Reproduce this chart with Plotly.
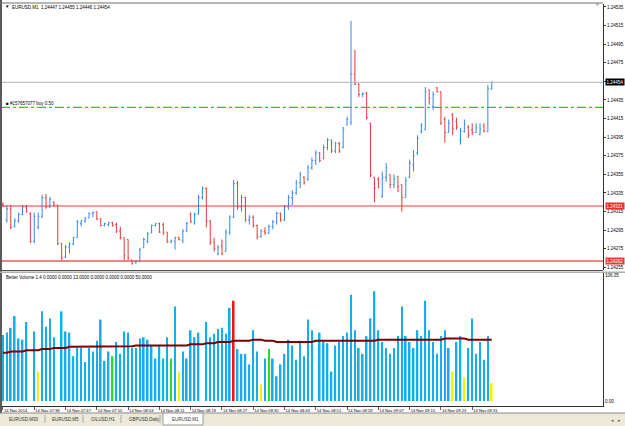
import plotly.graph_objects as go

W, H = 625, 426

# ---------------- data ----------------
time_labels = ["14 Nov 2014", "14 Nov 07:38", "14 Nov 07:47", "14 Nov 07:55", "14 Nov 08:03",
               "14 Nov 08:11", "14 Nov 08:19", "14 Nov 08:27", "14 Nov 08:35", "14 Nov 08:43",
               "14 Nov 08:51", "14 Nov 08:59", "14 Nov 09:07", "14 Nov 09:15", "14 Nov 09:23",
               "14 Nov 09:31"]
label_bars = [0, 8, 16, 24, 32, 40, 48, 56, 64, 72, 80, 88, 96, 104, 112, 120]

opens = [1.24323, 1.24306, 1.24318, 1.24299, 1.24305, 1.24312, 1.24320, 1.24313, 1.24283, 1.24298,
         1.24310, 1.24330, 1.24320, 1.24325, 1.24322, 1.24281, 1.24266, 1.24277, 1.24280, 1.24287,
         1.24302, 1.24305, 1.24308, 1.24313, 1.24315, 1.24307, 1.24300, 1.24301, 1.24303, 1.24301,
         1.24294, 1.24287, 1.24285, 1.24263, 1.24260, 1.24261, 1.24276, 1.24283, 1.24292, 1.24300,
         1.24302, 1.24301, 1.24293, 1.24282, 1.24283, 1.24287, 1.24284, 1.24294, 1.24312, 1.24303,
         1.24312, 1.24330, 1.24340, 1.24305, 1.24282, 1.24270, 1.24278, 1.24272, 1.24292, 1.24309,
         1.24345, 1.24320, 1.24330, 1.24306, 1.24309, 1.24300, 1.24288, 1.24294, 1.24292, 1.24299,
         1.24304, 1.24313, 1.24306, 1.24320, 1.24330, 1.24335, 1.24346, 1.24352, 1.24350, 1.24362,
         1.24370, 1.24378, 1.24372, 1.24384, 1.24392, 1.24380, 1.24388, 1.24384, 1.24408, 1.24411,
         1.24463, 1.24452, 1.24441, 1.24442, 1.24410, 1.24352, 1.24350, 1.24331, 1.24352, 1.24355,
         1.24344, 1.24353, 1.24344, 1.24330, 1.24352, 1.24365, 1.24378, 1.24401, 1.24403, 1.24446,
         1.24428, 1.24448, 1.24444, 1.24414, 1.24400, 1.24419, 1.24412, 1.24392, 1.24401, 1.24406,
         1.24403, 1.24400, 1.24398, 1.24407, 1.24401, 1.24447]
highs = [1.24325, 1.24322, 1.24322, 1.24308, 1.24314, 1.24322, 1.24322, 1.24314, 1.24314, 1.24314,
         1.24333, 1.24334, 1.24331, 1.24326, 1.24322, 1.24281, 1.24279, 1.24282, 1.24288, 1.24306,
         1.24306, 1.24309, 1.24314, 1.24315, 1.24315, 1.24308, 1.24303, 1.24304, 1.24304, 1.24303,
         1.24299, 1.24287, 1.24285, 1.24263, 1.24263, 1.24276, 1.24287, 1.24293, 1.24301, 1.24303,
         1.24303, 1.24303, 1.24293, 1.24285, 1.24288, 1.24288, 1.24296, 1.24304, 1.24314, 1.24314,
         1.24333, 1.24342, 1.24341, 1.24306, 1.24287, 1.24279, 1.24285, 1.24296, 1.24311, 1.24349,
         1.24348, 1.24333, 1.24331, 1.24311, 1.24311, 1.24301, 1.24296, 1.24298, 1.24301, 1.24306,
         1.24315, 1.24314, 1.24322, 1.24333, 1.24338, 1.24349, 1.24358, 1.24353, 1.24365, 1.24373,
         1.24381, 1.24379, 1.24387, 1.24394, 1.24392, 1.24390, 1.24390, 1.24406, 1.24417, 1.24520,
         1.24489, 1.24453, 1.24443, 1.24444, 1.24410, 1.24352, 1.24352, 1.24358, 1.24367, 1.24355,
         1.24355, 1.24353, 1.24344, 1.24352, 1.24371, 1.24381, 1.24397, 1.24410, 1.24449, 1.24446,
         1.24444, 1.24449, 1.24444, 1.24417, 1.24414, 1.24421, 1.24416, 1.24405, 1.24414, 1.24408,
         1.24410, 1.24410, 1.24410, 1.24410, 1.24451, 1.24455]
lows = [1.24320, 1.24303, 1.24296, 1.24298, 1.24303, 1.24311, 1.24314, 1.24281, 1.24281, 1.24296,
        1.24308, 1.24318, 1.24319, 1.24321, 1.24279, 1.24263, 1.24265, 1.24270, 1.24279, 1.24287,
        1.24299, 1.24303, 1.24308, 1.24309, 1.24306, 1.24299, 1.24299, 1.24299, 1.24299, 1.24292,
        1.24285, 1.24263, 1.24263, 1.24258, 1.24259, 1.24261, 1.24276, 1.24281, 1.24292, 1.24299,
        1.24292, 1.24290, 1.24281, 1.24281, 1.24274, 1.24284, 1.24281, 1.24293, 1.24303, 1.24301,
        1.24312, 1.24328, 1.24298, 1.24279, 1.24272, 1.24268, 1.24268, 1.24272, 1.24290, 1.24308,
        1.24317, 1.24315, 1.24304, 1.24301, 1.24298, 1.24285, 1.24287, 1.24290, 1.24291, 1.24296,
        1.24301, 1.24304, 1.24305, 1.24317, 1.24322, 1.24333, 1.24340, 1.24344, 1.24348, 1.24360,
        1.24365, 1.24368, 1.24371, 1.24381, 1.24378, 1.24378, 1.24378, 1.24383, 1.24408, 1.24408,
        1.24451, 1.24438, 1.24438, 1.24414, 1.24352, 1.24325, 1.24340, 1.24330, 1.24347, 1.24340,
        1.24340, 1.24336, 1.24315, 1.24330, 1.24351, 1.24358, 1.24376, 1.24399, 1.24403, 1.24430,
        1.24424, 1.24443, 1.24408, 1.24389, 1.24400, 1.24397, 1.24403, 1.24387, 1.24400, 1.24394,
        1.24397, 1.24400, 1.24397, 1.24400, 1.24401, 1.24446]
closes = [1.24321, 1.24318, 1.24298, 1.24305, 1.24312, 1.24320, 1.24315, 1.24283, 1.24310, 1.24310,
          1.24330, 1.24320, 1.24328, 1.24322, 1.24281, 1.24265, 1.24277, 1.24280, 1.24287, 1.24304,
          1.24305, 1.24308, 1.24313, 1.24314, 1.24307, 1.24300, 1.24302, 1.24303, 1.24300, 1.24294,
          1.24287, 1.24268, 1.24265, 1.24259, 1.24262, 1.24274, 1.24285, 1.24291, 1.24300, 1.24302,
          1.24293, 1.24292, 1.24283, 1.24284, 1.24287, 1.24285, 1.24294, 1.24302, 1.24304, 1.24312,
          1.24330, 1.24340, 1.24305, 1.24282, 1.24275, 1.24276, 1.24270, 1.24293, 1.24309, 1.24345,
          1.24320, 1.24330, 1.24306, 1.24309, 1.24300, 1.24288, 1.24294, 1.24292, 1.24299, 1.24304,
          1.24313, 1.24306, 1.24320, 1.24330, 1.24335, 1.24346, 1.24355, 1.24346, 1.24362, 1.24370,
          1.24378, 1.24370, 1.24384, 1.24392, 1.24380, 1.24388, 1.24380, 1.24403, 1.24414, 1.24463,
          1.24452, 1.24441, 1.24442, 1.24416, 1.24354, 1.24340, 1.24341, 1.24352, 1.24362, 1.24344,
          1.24350, 1.24342, 1.24330, 1.24348, 1.24367, 1.24375, 1.24394, 1.24408, 1.24444, 1.24437,
          1.24441, 1.24444, 1.24410, 1.24400, 1.24410, 1.24404, 1.24406, 1.24402, 1.24409, 1.24397,
          1.24400, 1.24405, 1.24404, 1.24402, 1.24447, 1.24454]

volume = [56, 58, 62, 72, 53, 52, 67, 50, 59, 25, 76, 63, 70, 54, 50, 76, 59, 58, 38, 45,
          45, 33, 45, 42, 51, 69, 34, 42, 38, 50, 40, 59, 58, 45, 45, 53, 54, 52, 47, 36,
          47, 36, 54, 36, 80, 25, 42, 36, 60, 54, 58, 50, 67, 54, 57, 61, 62, 57, 79, 85,
          44, 40, 40, 31, 60, 42, 14, 36, 44, 36, 21, 31, 40, 52, 47, 35, 51, 38, 69, 60,
          50, 58, 50, 49, 25, 47, 50, 55, 58, 90, 60, 45, 40, 55, 70, 93, 60, 50, 45, 40,
          45, 55, 80, 55, 50, 45, 60, 55, 85, 60, 50, 40, 55, 60, 45, 25, 50, 55, 20, 45,
          70, 40, 50, 35, 55, 15]
# n = neutral, l = low, c = climax high, h = churn, w = climax low
vol_kind = ["n", "n", "n", "n", "n", "n", "n", "w", "n", "l", "n", "n", "n", "n", "w", "n", "n", "n", "n", "n",
            "n", "n", "n", "n", "n", "n", "n", "n", "h", "n", "n", "n", "n", "n", "n", "n", "n", "n", "n", "n",
            "n", "n", "n", "h", "n", "l", "n", "n", "n", "n", "n", "w", "n", "n", "n", "n", "n", "n", "n", "c",
            "n", "n", "n", "n", "n", "n", "l", "n", "h", "n", "n", "n", "n", "n", "n", "n", "n", "n", "n", "n",
            "w", "n", "n", "n", "n", "n", "n", "n", "n", "n", "n", "n", "n", "n", "n", "n", "n", "n", "n", "n",
            "n", "n", "n", "n", "n", "n", "n", "n", "n", "n", "n", "n", "n", "n", "n", "l", "n", "n", "l", "n",
            "n", "n", "n", "n", "n", "l"]
vol_ma = [41, 41, 42, 42, 42, 42, 43, 43, 43, 43, 44, 44, 44, 45, 45, 45, 45, 46, 46, 46,
          46, 46, 46, 46, 46, 46, 46, 46, 46, 46, 46, 46.5, 46.5, 46.5, 47, 47, 47, 47, 47, 47,
          47, 47, 47, 47, 47, 47, 47, 47, 48, 48, 48, 48, 49, 49, 49, 50, 50, 50, 50, 51,
          51, 51, 51, 51, 52, 52, 52, 51, 51, 51, 50, 50, 50, 50, 50, 50, 50, 50, 50, 50,
          51, 51, 51, 51, 51, 51, 51, 51, 51, 51, 51, 51, 51, 51, 51, 51, 52, 52, 52, 52,
          52, 52, 52, 52, 52, 52, 52, 52, 52, 52, 52, 52, 52, 53, 53, 53, 53, 53, 53, 52,
          52, 52, 52, 52, 52, 52]

price_ticks = [1.24535, 1.24515, 1.24495, 1.24475, 1.24455, 1.24435, 1.24415, 1.24395,
               1.24375, 1.24355, 1.24335, 1.24315, 1.24295, 1.24275, 1.24255]
vol_ticks = [106.05, 0.0]
bid_price = 1.24454
order_price = 1.24427
level_high = 1.24321
level_low = 1.24262
header_text = "EURUSD,M1  1.24447 1.24455 1.24446 1.24454"
order_text = "#157657077 buy 0.50"
vol_title = "Better Volume 1.4 0.0000 0.0000 13.0000 0.0000 0.0000 0.0000 50.0000"
tabs = ["EURUSD,M30", "EURUSD,M5", "OILUSD,H1", "GBPUSD,Daily", "EURUSD,M1"]

# ---------------- styling / layout helpers ----------------
FONT = "Liberation Sans"
FS = 4.5
kind_colors = {"n": "#12aef0", "l": "#f5f000", "c": "#ff1010", "h": "#22e022", "w": "#ffffff"}

def px(x):
    return x / W

def py(y):
    return 1 - y / H

bars = list(range(len(opens)))
xr = [-0.51, 153.45]

fig = go.Figure()
fig.add_trace(go.Ohlc(x=bars, open=opens, high=highs, low=lows, close=closes,
                      increasing=dict(line=dict(color="#3389e6", width=1)),
                      decreasing=dict(line=dict(color="#e43a3a", width=1)),
                      tickwidth=0.3, xaxis="x", yaxis="y", hoverinfo="skip"))
fig.add_trace(go.Bar(x=bars, y=volume, marker=dict(color=[kind_colors[k] for k in vol_kind], line=dict(width=0)),
                     width=0.42, xaxis="x2", yaxis="y2"))
fig.add_trace(go.Scatter(x=bars, y=vol_ma, mode="lines", line=dict(color="#7a0000", width=2),
                         xaxis="x2", yaxis="y2"))

xdom = [px(1), px(603)]
fig.update_layout(
    width=W, height=H, margin=dict(l=0, r=0, t=0, b=0),
    paper_bgcolor="white", plot_bgcolor="white", showlegend=False,
    font=dict(family=FONT, size=FS, color="black"),
    xaxis=dict(domain=xdom, range=xr, anchor="y", showticklabels=False, showgrid=False,
               zeroline=False, rangeslider=dict(visible=False), showline=False, ticks=""),
    yaxis=dict(domain=[py(270), py(4)], range=[1.242522, 1.245382], side="right", anchor="x",
               tickvals=price_ticks, ticktext=[f"{v:.5f}" for v in price_ticks],
               showgrid=False, zeroline=False, showline=True, linecolor="#303030", linewidth=1,
               ticks="outside", ticklen=2, tickcolor="#303030", tickfont=dict(size=FS),
               automargin=False),
    xaxis2=dict(domain=xdom, range=xr, anchor="y2", tickvals=label_bars, ticktext=time_labels,
                ticklabelposition="outside right", tickangle=0, showgrid=False, zeroline=False,
                showline=True, linecolor="#303030", linewidth=1, ticks="outside", ticklen=3,
                tickcolor="#606060", tickfont=dict(size=4.1), automargin=False),
    yaxis2=dict(domain=[py(406), py(273)], range=[-4.24, 108.5], side="right", anchor="x2",
                tickvals=vol_ticks, ticktext=[f"{v:.2f}" for v in vol_ticks],
                showgrid=False, zeroline=False, showline=True, linecolor="#303030", linewidth=1,
                ticks="", tickfont=dict(size=FS), automargin=False),
)

shapes = []
# price levels
shapes.append(dict(type="line", xref="paper", yref="y", x0=xdom[0], x1=xdom[1], y0=bid_price, y1=bid_price,
                   line=dict(color="#aab4be", width=1)))
shapes.append(dict(type="line", xref="paper", yref="y", x0=xdom[0], x1=xdom[1], y0=order_price, y1=order_price,
                   line=dict(color="#22cc22", width=1.2, dash="dashdot")))
shapes.append(dict(type="line", xref="paper", yref="y", x0=xdom[0], x1=xdom[1], y0=level_high, y1=level_high,
                   line=dict(color="#e23a3a", width=1)))
shapes.append(dict(type="line", xref="paper", yref="y", x0=xdom[0], x1=xdom[1], y0=level_low, y1=level_low,
                   line=dict(color="#f05858", width=1.5)))
# frame
shapes.append(dict(type="rect", xref="paper", yref="paper", x0=0, x1=px(2), y0=py(413), y1=1,
                   fillcolor="#5a5a5a", line=dict(width=0)))
shapes.append(dict(type="line", xref="paper", yref="paper", x0=0, x1=px(603), y0=py(3), y1=py(3),
                   line=dict(color="#707070", width=1)))
shapes.append(dict(type="line", xref="paper", yref="paper", x0=0, x1=px(603), y0=py(270.5), y1=py(270.5),
                   line=dict(color="#505050", width=1)))
shapes.append(dict(type="line", xref="paper", yref="paper", x0=0, x1=1, y0=py(272.3), y1=py(272.3),
                   line=dict(color="#b0b0b0", width=1.5)))
# tab strip
shapes.append(dict(type="rect", xref="paper", yref="paper", x0=0, x1=1, y0=0, y1=py(413),
                   fillcolor="#ece9d8", line=dict(width=0)))
shapes.append(dict(type="line", xref="paper", yref="paper", x0=0, x1=1, y0=py(413), y1=py(413),
                   line=dict(color="#8a8a8a", width=1)))
shapes.append(dict(type="rect", xref="paper", yref="paper", x0=px(163), x1=px(203), y0=py(425), y1=py(413),
                   fillcolor="white", line=dict(color="#9a9a9a", width=1)))
for sx in [45, 83, 121, 160]:
    shapes.append(dict(type="line", xref="paper", yref="paper", x0=px(sx), x1=px(sx), y0=py(423), y1=py(415),
                       line=dict(color="#a8a8a8", width=1)))
fig.update_layout(shapes=shapes)

ann = []
ann.append(dict(text="▼", x=px(3), y=py(6.5), xref="paper", yref="paper", xanchor="left", yanchor="middle",
                showarrow=False, font=dict(size=4.5)))
ann.append(dict(text=header_text, x=px(10), y=py(7), xref="paper", yref="paper", xanchor="left",
                yanchor="middle", showarrow=False, font=dict(size=FS)))
ann.append(dict(text="■ " + order_text, x=px(4), y=py(103.5), xref="paper", yref="paper", xanchor="left",
                yanchor="middle", showarrow=False, font=dict(size=FS)))
ann.append(dict(text=vol_title, x=px(4), y=py(277.5), xref="paper", yref="paper", xanchor="left",
                yanchor="middle", showarrow=False, font=dict(size=FS)))
for val, bg in [(bid_price, "black"), (level_high, "#e8302c"), (level_low, "#ee3a36")]:
    ann.append(dict(text=f"{val:.5f}", x=px(604.5), y=val, xref="paper", yref="y", xanchor="left",
                    yanchor="middle", showarrow=False, bgcolor=bg, borderpad=0.6,
                    font=dict(size=FS, color="white")))
ann.append(dict(text="▼", x=px(597), y=py(4), xref="paper", yref="paper", xanchor="center", yanchor="middle",
                showarrow=False, font=dict(size=4.5, color="#888888")))
tab_x = [7, 50, 89, 127, 170]
for t, tx in zip(tabs, tab_x):
    ann.append(dict(text=t, x=px(tx), y=py(419.5), xref="paper", yref="paper", xanchor="left",
                    yanchor="middle", showarrow=False, font=dict(size=FS, color="#333333")))
ann.append(dict(text="◂   ▸", x=px(616), y=py(420), xref="paper", yref="paper", xanchor="center",
                yanchor="middle", showarrow=False, font=dict(size=5, color="#666666")))
fig.update_layout(annotations=ann)

fig.write_html("out.html")
